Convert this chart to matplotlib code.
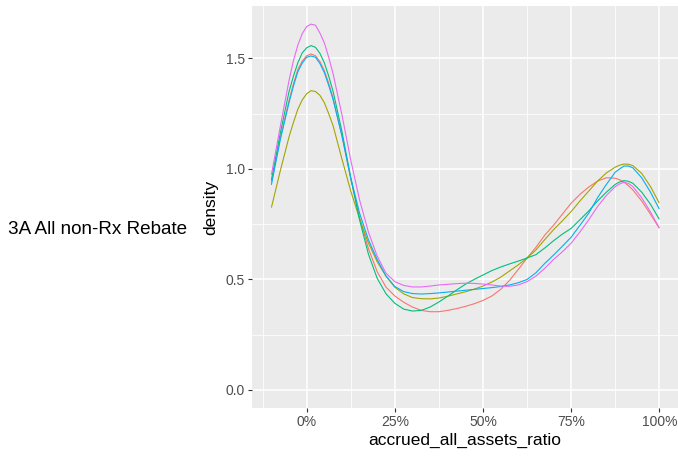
"""Density of accrued_all_assets_ratio, five groups, ggplot-like look."""

import matplotlib
matplotlib.use("Agg")
import matplotlib.pyplot as plt
from matplotlib.ticker import FixedLocator, FuncFormatter

plt.rcParams["font.family"] = ["Liberation Sans", "DejaVu Sans"]

# values -----------------------------------------------------------------------
RATIO = [-0.1, -0.075, -0.05, -0.0375, -0.025, -0.0125, 0.0, 0.0125, 0.025, 0.0375,
         0.05, 0.0625, 0.075, 0.1, 0.125, 0.15, 0.175, 0.2, 0.225, 0.25,
         0.275, 0.3, 0.325, 0.35, 0.375, 0.4, 0.425, 0.45, 0.475, 0.5,
         0.525, 0.55, 0.575, 0.6, 0.625, 0.65, 0.675, 0.7, 0.725, 0.75,
         0.775, 0.8, 0.825, 0.85, 0.875, 0.8875, 0.9, 0.9125, 0.925, 0.95,
         0.975, 1.0]

DENS_RED = [0.94, 1.14, 1.31, 1.385, 1.45, 1.488, 1.512, 1.52, 1.512, 1.486,
            1.445, 1.388, 1.32, 1.15, 0.955, 0.78, 0.64, 0.535, 0.465, 0.425,
            0.397, 0.375, 0.36, 0.354, 0.354, 0.36, 0.368, 0.378, 0.39, 0.405,
            0.425, 0.455, 0.495, 0.545, 0.597, 0.645, 0.70, 0.745, 0.795, 0.845,
            0.885, 0.918, 0.945, 0.96, 0.958, 0.951, 0.94, 0.924, 0.905, 0.855,
            0.795, 0.732]
DENS_OLIVE = [0.825, 0.99, 1.145, 1.21, 1.27, 1.312, 1.34, 1.354, 1.35, 1.333,
              1.30, 1.25, 1.195, 1.045, 0.90, 0.775, 0.665, 0.58, 0.515, 0.465,
              0.435, 0.418, 0.413, 0.412, 0.416, 0.424, 0.434, 0.444, 0.456, 0.47,
              0.488, 0.51, 0.538, 0.566, 0.597, 0.633, 0.68, 0.725, 0.765, 0.807,
              0.855, 0.90, 0.945, 0.982, 1.008, 1.017, 1.022, 1.021, 1.015, 0.98,
              0.92, 0.845]
DENS_GREEN = [0.95, 1.16, 1.35, 1.42, 1.48, 1.525, 1.548, 1.558, 1.55, 1.523,
              1.48, 1.42, 1.35, 1.17, 0.96, 0.77, 0.615, 0.505, 0.435, 0.392,
              0.366, 0.357, 0.36, 0.375, 0.398, 0.424, 0.452, 0.478, 0.50, 0.52,
              0.54, 0.556, 0.57, 0.583, 0.597, 0.612, 0.642, 0.675, 0.705, 0.731,
              0.77, 0.81, 0.855, 0.895, 0.93, 0.941, 0.947, 0.944, 0.935, 0.895,
              0.84, 0.772]
DENS_BLUE = [0.928, 1.13, 1.30, 1.375, 1.44, 1.479, 1.505, 1.511, 1.505, 1.477,
             1.436, 1.378, 1.313, 1.15, 0.96, 0.80, 0.68, 0.59, 0.515, 0.468,
             0.445, 0.436, 0.434, 0.436, 0.439, 0.443, 0.447, 0.451, 0.455, 0.459,
             0.463, 0.468, 0.475, 0.485, 0.50, 0.53, 0.572, 0.61, 0.65, 0.691,
             0.745, 0.80, 0.87, 0.93, 0.985, 1.0, 1.013, 1.013, 1.005, 0.96,
             0.895, 0.818]
DENS_PINK = [0.973, 1.19, 1.40, 1.49, 1.56, 1.612, 1.644, 1.655, 1.65, 1.615,
             1.571, 1.505, 1.43, 1.245, 1.04, 0.86, 0.715, 0.605, 0.528, 0.49,
             0.473, 0.466, 0.466, 0.47, 0.475, 0.478, 0.481, 0.483, 0.482, 0.479,
             0.475, 0.47, 0.469, 0.475, 0.49, 0.515, 0.55, 0.59, 0.625, 0.664,
             0.715, 0.77, 0.83, 0.88, 0.92, 0.932, 0.94, 0.934, 0.92, 0.87,
             0.805, 0.732]

SERIES = [DENS_RED, DENS_OLIVE, DENS_GREEN, DENS_BLUE, DENS_PINK]
COLORS = ["#F8766D", "#A3A500", "#00BF7D", "#00B0F6", "#E76BF3"]

X_TICKS = [0.0, 0.25, 0.5, 0.75, 1.0]
Y_TICKS = [0.0, 0.5, 1.0, 1.5]

W, H = 678, 459


def main() -> None:
    fig = plt.figure(figsize=(W / 100, H / 100), dpi=100)
    left, right, top, bottom = 252.0, 678.0, 6.0, 408.2
    ax = fig.add_axes([left / W, 1 - bottom / H, (right - left) / W, (bottom - top) / H])
    ax.set_facecolor("#EBEBEB")

    for dens, color in zip(SERIES, COLORS):
        assert len(dens) == len(RATIO)
        ax.plot(RATIO, dens, color=color, linewidth=0.8,
                solid_joinstyle="round", solid_capstyle="butt")

    ax.set_xlim(-0.155, 1.053)
    ax.set_ylim(-0.0825, 1.737)

    ax.xaxis.set_major_locator(FixedLocator(X_TICKS))
    ax.xaxis.set_minor_locator(FixedLocator([-0.125, 0.125, 0.375, 0.625, 0.875]))
    ax.yaxis.set_major_locator(FixedLocator(Y_TICKS))
    ax.yaxis.set_minor_locator(FixedLocator([0.25, 0.75, 1.25]))
    ax.xaxis.set_major_formatter(FuncFormatter(lambda v, _: f"{v * 100:.0f}%"))
    ax.yaxis.set_major_formatter(FuncFormatter(lambda v, _: f"{v:.1f}"))

    ax.grid(True, which="major", color="white", linewidth=1.1)
    ax.grid(True, which="minor", color="white", linewidth=0.55)
    ax.set_axisbelow(True)
    for spine in ax.spines.values():
        spine.set_visible(False)

    ax.tick_params(which="major", length=3.2, width=0.8, color="#333333",
                   labelcolor="#4D4D4D", labelsize=10, pad=2)
    ax.tick_params(which="minor", length=0)

    ax.set_xlabel("accrued_all_assets_ratio", fontsize=12.5, color="black")
    ax.set_ylabel("density", fontsize=12.5, color="black")
    ax.xaxis.set_label_coords(0.5, (bottom - 433) / (bottom - top))
    ax.yaxis.set_label_coords((218 - left) / (right - left), 0.5)

    fig.text(97.5 / W, 0.5, "3A All non-Rx Rebate", fontsize=13.6,
             ha="center", va="center", color="black")

    fig.savefig("out.png", dpi=100)


if __name__ == "__main__":
    main()
